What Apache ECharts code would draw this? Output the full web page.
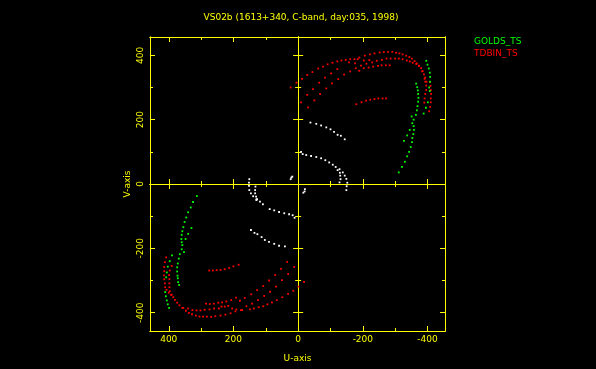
<!DOCTYPE html>
<html>
<head>
<meta charset="utf-8">
<title>VS02b</title>
<style>
html, body { margin: 0; padding: 0; background: #000; }
#chart { width: 596px; height: 369px; }
</style>
<script src="https://cdn.jsdelivr.net/npm/echarts@6/dist/echarts.min.js"></script>
</head>
<body>
<div id="chart"></div>
<script>
// values, [u, v]
var redUpper = [[5,315],[-12,327],[-28,339],[-44,348],[-62,359],[-77,365],[-91,372],[-106,377],[-121,381],[-134,384],[-147,386],[-161,388],[-174,388],[-189,393],[-206,399],[-222,403],[-236,406],[-252,409],[-265,410],[-278,411],[-291,411],[-303,408],[-313,406],[-323,403],[-334,399],[-344,395],[-352,390],[-360,382],[-367,375],[-373,367],[-380,360],[-385,351],[-389,341],[-393,331],[-393,318],[-396,306],[-396,292],[-393,280],[-391,266],[-390,253],
    [-184,388],[-203,384],[-220,385],[-229,378],[-243,383],[-259,386],[-273,390],[-286,390],[-300,390],[-311,390],[-323,388],[-336,384],[-345,381],[-354,377],[-365,373],[-374,368],[-383,350],[-391,327],[-397,318],[-408,317],[-409,305],[-410,292],[-411,280],[-410,266],[-410,254],[-408,240],[-405,226],
    [-9,254],[-28,277],[-46,295],[-65,315],[-83,331],[-102,344],[-121,357],[-157,378],[-176,375],[-194,368],[-211,374],
    [-31,238],[-50,260],[-68,280],[-87,297],[-105,313],[-124,326],[-142,340],[-161,350],[-178,360],[-189,352],[-203,360],[-218,362],[-232,365],[-247,367],[-258,369],[-271,369],[-283,369],[23,300],
    [-180,248],[-196,254],[-210,259],[-223,262],[-236,264],[-248,266],[-261,266],[-272,266]];
var redLower = [[408,-228],[412,-243],[414,-258],[414,-271],[415,-284],[414,-296],[412,-309],[411,-321],[407,-329],[400,-338],[393,-345],[386,-352],[381,-360],[374,-369],[367,-377],[358,-385],[347,-394],[338,-401],[328,-405],[316,-409],[305,-412],[294,-412],[282,-412],[269,-413],[256,-411],[240,-409],[225,-406],[209,-402],[194,-396],[177,-392],
    [391,-255],[397,-269],[399,-283],[398,-296],[398,-309],[398,-321],[397,-333],[391,-344],[355,-385],[340,-387],[327,-392],[314,-393],[302,-393],[289,-391],[274,-390],[260,-387],[245,-387],[227,-381],[204,-387],[191,-390],[173,-392],[149,-390],[137,-387],[122,-383],[108,-380],[95,-374],[81,-368],[66,-361],[49,-352],[31,-342],[15,-332],[-1,-319],[-18,-304],
    [285,-372],[273,-373],[261,-372],[247,-369],[235,-368],[222,-365],[207,-361],[192,-353],[180,-363],[165,-354],[145,-343],[127,-330],[108,-317],[90,-300],[71,-283],[53,-264],[34,-242],
    [275,-269],[264,-269],[252,-268],[240,-267],[227,-265],[213,-261],[200,-256],[184,-251],
    [12,-258],[31,-280],[50,-299],[68,-319],[87,-335],[105,-348],[124,-361],[142,-372],[160,-380],[216,-379],[237,-381]];
var greenUpper = [[-396,383],[-400,371],[-404,359],[-407,346],[-408,333],[-408,318],[-405,300],[-407,289],[-401,254],[-395,237],[-388,219],
    [-365,312],[-368,301],[-370,291],[-371,280],[-372,268],[-371,256],[-369,242],[-367,229],[-364,215],[-351,210],[-357,200],[-353,189],[-357,180],[-358,168],[-345,168],[-356,155],[-337,151],[-353,143],[-327,134],[-352,130],[-348,115],[-343,100],[-337,86],[-330,69],[-321,53],[-311,36]];
var greenLower = [[313,-38],[325,-56],[332,-73],[340,-88],[346,-104],[351,-118],[355,-134],[358,-147],[360,-158],[361,-171],[360,-181],[358,-190],[360,-203],[366,-218],[369,-232],[372,-247],[374,-259],[374,-272],[373,-285],[372,-293],[371,-305],[368,-314],
    [330,-137],[340,-155],[348,-171],[353,-212],[390,-222],[397,-240],[403,-257],[406,-275],[408,-290],[411,-336],[409,-349],[406,-362],[403,-374],[399,-385]];
var whiteUpper = [[-38,191],[-56,187],[-71,182],[-87,176],[-100,170],[-111,162],[-122,153],[-132,150],[-144,139],
    [-9,100],[-14,93],[-25,90],[-40,87],[-56,84],[-71,80],[-84,74],[-96,67],[-107,60],[-116,53],[-128,46],[-122,43],[-138,36],[-129,35],[-144,26],[-130,26],[-149,16],[-131,15],[-152,4],[-128,5],[-150,-7],[-149,-19],
    [23,15],[18,23],[21,20]];
var whiteLower = [[-21,-16],[-20,-23],[-16,-27],
    [151,15],[152,4],[152,-6],[151,-19],[146,-29],[139,-38],[129,-48],[118,-55],[109,-63],[88,-78],[74,-82],[59,-87],[43,-91],[28,-94],[17,-97],[11,-105],
    [132,-8],[133,-19],[133,-29],[130,-39],[127,-47],[129,-50],
    [146,-143],[135,-152],[126,-156],[113,-165],[103,-174],[90,-180],[74,-186],[59,-192],[41,-194]];

var majorTicks = [-400, -200, 0, 200, 400];
var minorTicks = [-300, -100, 100, 300];
var zeroMajor = [-400, -200, 200, 400];

var yellow = '#ffff00';
var fontName = 'DejaVu Sans';

var chart = echarts.init(document.getElementById('chart'));

// one tick set on one line of the box
function makeAxis(dim, place, inside, ticks, len) {
    var ax = {
        type: 'value',
        gridIndex: 0,
        position: place,
        axisLine: { show: true, onZero: false, lineStyle: { color: yellow, width: 1 } },
        axisTick: { show: true, inside: inside, length: len, customValues: ticks, lineStyle: { color: yellow, width: 1 } },
        axisLabel: { show: false },
        splitLine: { show: false }
    };
    if (dim == 'x') {
        ax.inverse = true;
        ax.min = -454;
        ax.max = 458;
    } else {
        ax.min = -457;
        ax.max = 457;
    }
    return ax;
}

// the line through zero, ticks on both sides need two axes
function makeZeroAxis(dim, place, inside, ticks, len) {
    var ax = makeAxis(dim, place, inside, ticks, len);
    ax.axisLine.onZero = true;
    ax.axisLine.onZeroAxisIndex = 0;
    return ax;
}

var xBottom = makeAxis('x', 'bottom', true, majorTicks, 5);
xBottom.name = 'U-axis';
xBottom.nameLocation = 'middle';
xBottom.nameGap = 23;
xBottom.nameTextStyle = { color: yellow, fontFamily: fontName, fontSize: 9 };
xBottom.axisLabel = { show: true, color: yellow, fontFamily: fontName, fontSize: 9, margin: 4, customValues: majorTicks };

var yLeft = makeAxis('y', 'left', true, majorTicks, 5);
yLeft.name = 'V-axis';
yLeft.nameLocation = 'middle';
yLeft.nameGap = 18;
yLeft.nameTextStyle = { color: yellow, fontFamily: fontName, fontSize: 9 };
yLeft.axisLabel = { show: true, color: yellow, fontFamily: fontName, fontSize: 9, margin: 5, rotate: 90, customValues: majorTicks };

var xAxes = [
    xBottom,
    makeAxis('x', 'bottom', true, minorTicks, 3),
    makeAxis('x', 'top', true, majorTicks, 5),
    makeAxis('x', 'top', true, minorTicks, 3),
    makeZeroAxis('x', 'bottom', false, zeroMajor, 5),
    makeZeroAxis('x', 'top', false, zeroMajor, 5),
    makeZeroAxis('x', 'bottom', false, minorTicks, 3),
    makeZeroAxis('x', 'top', false, minorTicks, 3)
];
var yAxes = [
    yLeft,
    makeAxis('y', 'left', true, minorTicks, 3),
    makeAxis('y', 'right', true, majorTicks, 5),
    makeAxis('y', 'right', true, minorTicks, 3),
    makeZeroAxis('y', 'left', false, zeroMajor, 5),
    makeZeroAxis('y', 'right', false, zeroMajor, 5),
    makeZeroAxis('y', 'left', false, minorTicks, 3),
    makeZeroAxis('y', 'right', false, minorTicks, 3)
];

function dots(name, color, data) {
    return {
        name: name,
        type: 'scatter',
        xAxisIndex: 0,
        yAxisIndex: 0,
        symbol: 'rect',
        symbolSize: 1.8,
        silent: true,
        itemStyle: { color: color, opacity: 1 },
        data: data
    };
}

chart.setOption({
    animation: false,
    backgroundColor: '#000000',
    title: {
        text: 'VS02b (1613+340, C-band, day:035, 1998)',
        left: 296,
        top: 8,
        textAlign: 'center',
        textStyle: { color: yellow, fontFamily: fontName, fontSize: 9, fontWeight: 'normal' }
    },
    legend: {
        orient: 'vertical',
        left: 469,
        top: 37,
        padding: 0,
        itemGap: 2,
        itemWidth: 0,
        itemHeight: 10,
        selectedMode: false,
        data: [
            { name: 'GOLDS_TS', icon: 'none', textStyle: { color: '#00ff00' } },
            { name: 'TDBIN_TS', icon: 'none', textStyle: { color: '#ff0000' } }
        ],
        textStyle: { fontFamily: fontName, fontSize: 9 }
    },
    grid: { left: 150, right: 151, top: 37, bottom: 38, outerBoundsMode: 'none' },
    xAxis: xAxes,
    yAxis: yAxes,
    series: [
        dots('TDBIN_TS', '#ff0000', redUpper),
        dots('TDBIN_TS', '#ff0000', redLower),
        dots('GOLDS_TS', '#00ff00', greenUpper),
        dots('GOLDS_TS', '#00ff00', greenLower),
        dots('baseline', '#ffffff', whiteUpper),
        dots('baseline', '#ffffff', whiteLower)
    ]
});
</script>
</body>
</html>
